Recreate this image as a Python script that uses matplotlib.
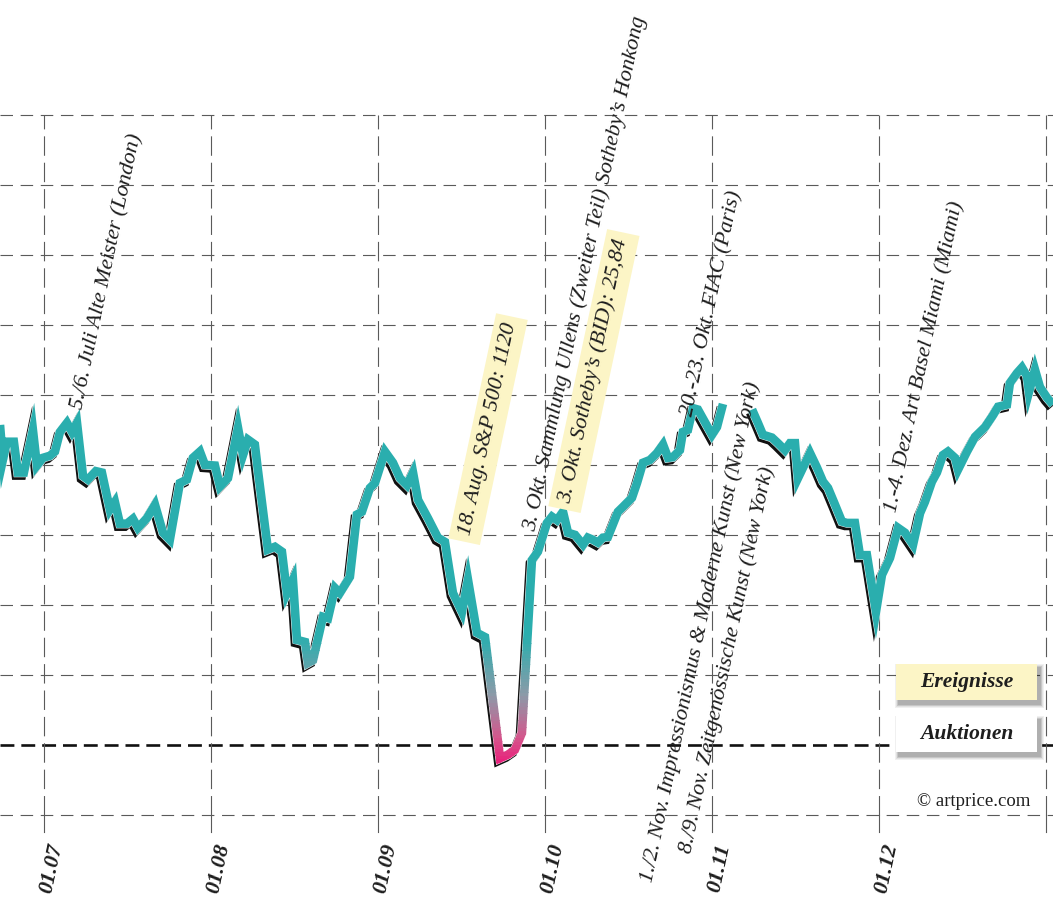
import numpy as np
import matplotlib
matplotlib.use("Agg")
import matplotlib.pyplot as plt
from matplotlib import transforms
from matplotlib.colors import LinearSegmentedColormap
from matplotlib.patches import Rectangle

plt.rcParams['lines.scale_dashes'] = False
plt.rcParams['font.family'] = ['Liberation Serif', 'DejaVu Serif']

# position in months counted from 01.07 (2011), index value
seg1_t = [-0.263, -0.246, -0.222, -0.180, -0.156, -0.120, -0.066, -0.042, -0.006, 0.036,
          0.066, 0.096, 0.138, 0.168, 0.198, 0.234, 0.263, 0.311, 0.347, 0.395,
          0.425, 0.455, 0.497, 0.533, 0.563, 0.617, 0.665, 0.713, 0.754, 0.814,
          0.856, 0.892, 0.934, 0.964, 1.024, 1.054, 1.102, 1.162, 1.192, 1.222,
          1.263, 1.281, 1.341, 1.383, 1.425, 1.455, 1.491, 1.515, 1.563, 1.581,
          1.611, 1.671, 1.701, 1.743, 1.772, 1.832, 1.874, 1.904, 1.952, 1.982,
          2.042, 2.090, 2.132, 2.174, 2.210, 2.240, 2.299, 2.359, 2.401, 2.449,
          2.503, 2.539, 2.593, 2.641, 2.731, 2.778, 2.820, 2.862, 2.922, 2.958,
          3.012, 3.042, 3.072, 3.108, 3.138, 3.180, 3.228, 3.257, 3.287, 3.317,
          3.347, 3.377, 3.437, 3.467, 3.521, 3.551, 3.587, 3.629, 3.671, 3.707,
          3.737, 3.766, 3.808, 3.826, 3.856, 3.886, 3.916, 3.958, 4.000, 4.030,
          4.066]
seg1_v = [145.7, 140.7, 143.3, 143.3, 138.9, 138.9, 145.0, 139.9, 141.0, 141.3,
          141.9, 144.7, 146.0, 144.7, 146.0, 138.4, 137.9, 139.1, 138.9, 133.6,
          134.7, 131.6, 131.6, 132.3, 131.0, 132.4, 134.3, 130.3, 129.3, 137.4,
          137.9, 141.0, 141.9, 140.0, 139.9, 136.9, 138.1, 145.3, 141.4, 143.6,
          142.9, 139.3, 127.9, 128.3, 127.6, 121.7, 123.6, 115.0, 114.7, 111.7,
          112.1, 118.3, 118.1, 122.4, 121.7, 124.0, 132.9, 133.3, 136.7, 137.4,
          141.9, 140.3, 138.1, 137.1, 138.9, 135.0, 132.4, 129.6, 129.0, 121.7,
          119.0, 123.6, 116.0, 115.4, 98.1, 98.6, 99.3, 101.7, 126.4, 127.6,
          131.7, 132.6, 132.1, 133.3, 130.3, 130.0, 128.6, 129.6, 129.3, 128.9,
          129.6, 129.7, 133.3, 134.0, 135.3, 137.4, 140.3, 140.7, 141.7, 142.9,
          141.0, 141.1, 142.1, 144.7, 145.0, 148.1, 147.9, 146.1, 144.3, 145.4,
          148.7]
seg2_t = [4.240, 4.275, 4.305, 4.359, 4.395, 4.437, 4.467, 4.497, 4.515, 4.587,
          4.629, 4.665, 4.695, 4.737, 4.778, 4.808, 4.856, 4.886, 4.928, 4.982,
          5.018, 5.066, 5.114, 5.156, 5.204, 5.246, 5.275, 5.317, 5.347, 5.383,
          5.413, 5.455, 5.473, 5.527, 5.575, 5.635, 5.683, 5.713, 5.766, 5.784,
          5.826, 5.856, 5.886, 5.898, 5.934, 5.964, 6.006, 6.042]
seg2_v = [147.9, 146.0, 144.3, 143.9, 143.1, 142.1, 143.1, 143.1, 138.1, 141.7,
          139.6, 137.6, 136.7, 134.3, 131.9, 131.7, 131.7, 127.1, 127.1, 119.0,
          124.3, 126.7, 131.0, 130.3, 128.6, 133.1, 134.7, 137.6, 138.9, 141.4,
          141.9, 141.0, 139.3, 141.9, 144.0, 145.4, 147.1, 148.3, 148.6, 151.7,
          153.1, 153.9, 152.7, 150.4, 153.6, 151.1, 149.6, 148.6]

month_ticks = [0, 1, 2, 3, 4, 5]
month_labels = ["01.07", "01.08", "01.09", "01.10", "01.11", "01.12"]
grid_months = [0, 1, 2, 3, 4, 5, 6]
grid_levels = [90, 110, 120, 130, 140, 150, 160, 170, 180, 190]
base_level = 100

# event annotations: text, month position, index position, highlighted
events = [
    ("5./6. Juli Alte Meister (London)", 0.377, 167.6, False),
    ("18. Aug. S&P 500: 1120", 2.659, 145.1, True),
    ("3. Okt. Sammlung Ullens (Zweiter Teil) Sotheby\u2019s Honkong", 3.240, 167.3, False),
    ("3. Okt. Sotheby\u2019s (BID): 25,84", 3.293, 153.4, True),
    ("20.-23. Okt. FIAC (Paris)", 4.000, 163.1, False),
    ("1./2. Nov. Impressionismus & Moderne Kunst (New York)", 3.934, 116.1, False),
    ("8./9. Nov. Zeitgen\u00f6ssische Kunst (New York)", 4.090, 112.1, False),
    ("1.-4. Dez. Art Basel Miami (Miami)", 5.275, 155.4, False),
]

teal = "#2aaeae"
highlight = "#fcf5c6"
text_col = "#1e1e1e"
grid_col = "#5a5a5a"

fig = plt.figure(figsize=(10.53, 9.08), dpi=100)
ax = fig.add_axes([0, 0, 1, 1])
ax.set_xlim(-0.263, 6.042)
ax.set_ylim(76.7, 206.4)
ax.axis("off")

# grid
for lv in grid_levels:
    ax.plot(ax.get_xlim(), [lv, lv], color=grid_col, lw=0.8,
            linestyle=(0, (9, 5.5)), zorder=1)
ax.plot(ax.get_xlim(), [base_level, base_level], color="#111111", lw=1.9,
        linestyle=(0, (10, 5)), zorder=1)
for m in grid_months:
    ax.plot([m, m], [90, 190], color=grid_col, lw=0.8,
            linestyle=(0, (14, 5)), zorder=1)
    ax.plot([m, m], [90, 87.6], color=grid_col, lw=0.8, zorder=1)

for m, lab in zip(month_ticks, month_labels):
    ax.text(m + 0.045, 82.4, lab, rotation=78, ha="center", va="center",
            fontsize=16, fontstyle="italic", fontweight="bold", color=text_col)

# index line
t_all = np.array(seg1_t + [np.nan] + seg2_t)
v_all = np.array(seg1_v + [np.nan] + seg2_v)
lw = 6.2

shadow_tr = transforms.offset_copy(ax.transData, fig=fig, x=-2, y=-3, units="dots")
ax.plot(t_all, v_all, color="#111111", lw=lw, transform=shadow_tr,
        solid_joinstyle="miter", solid_capstyle="butt", zorder=3)
ax.plot(t_all, v_all, color="white", lw=lw + 0.6,
        solid_joinstyle="miter", solid_capstyle="butt", zorder=4)

cmap = LinearSegmentedColormap.from_list(
    "dip", [(0.0, "#ec1878"), (0.22, "#d4568c"), (0.55, "#8c9aa8"), (1.0, teal)])
lo, hi = 97.0, 115.5

top_line, = ax.plot(t_all, v_all, color=teal, lw=lw, solid_joinstyle="miter",
                    solid_capstyle="butt", zorder=5)
top_line.set_clip_path(Rectangle((-1, hi), 10, 200, transform=ax.transData))

edges = np.linspace(80, hi, 72)
for a, b in zip(edges[:-1], edges[1:]):
    frac = np.clip(((a + b) / 2 - lo) / (hi - lo), 0, 1)
    ln, = ax.plot(t_all, v_all, color=cmap(frac), lw=lw, solid_joinstyle="miter",
                  solid_capstyle="butt", zorder=5)
    ln.set_clip_path(Rectangle((-1, a - 0.05), 10, (b - a) + 0.1, transform=ax.transData))

# event labels
for txt, tx, ty, hl in events:
    kw = {}
    if hl:
        kw["bbox"] = dict(boxstyle="square,pad=0.3", fc=highlight, ec="none")
    ax.text(tx, ty, txt, rotation=78, ha="center", va="center", fontsize=16,
            fontstyle="italic", color=text_col, zorder=6, **kw)

# legend boxes with soft shadows
W, H = 1053.0, 908.0
def legend_box(x0, y0, x1, y1, fc, label):
    for i in range(6, 0, -1):
        fig.add_artist(Rectangle(((x0 + 3 - i * 0.6) / W, 1 - (y1 + 4 + i * 0.6) / H),
                                 (x1 - x0 + i * 1.2) / W, (y1 - y0 + i * 1.2) / H,
                                 transform=fig.transFigure, fc="#000000", ec="none",
                                 alpha=0.06, zorder=2))
    fig.add_artist(Rectangle((x0 / W, 1 - y1 / H), (x1 - x0) / W, (y1 - y0) / H,
                             transform=fig.transFigure, fc=fc, ec="none", zorder=3))
    fig.text((x0 + x1) / 2 / W, 1 - (y0 + y1) / 2 / H, label, ha="center", va="center",
             fontsize=15.5, fontstyle="italic", fontweight="bold", color=text_col, zorder=4)

legend_box(896, 664, 1037, 700, highlight, "Ereignisse")
legend_box(896, 716, 1037, 752, "white", "Auktionen")

fig.text(974 / W, 1 - 801 / H, "\u00a9 artprice.com", ha="center", va="center",
         fontsize=13.5, color=text_col)

fig.savefig("out.png", dpi=100)
